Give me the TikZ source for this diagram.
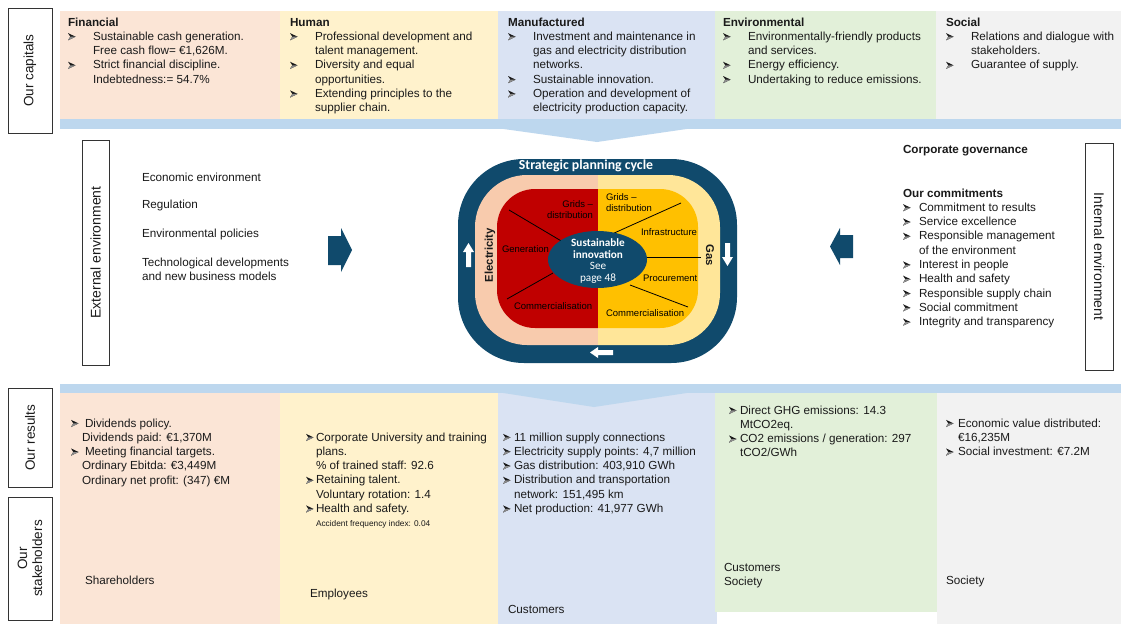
\documentclass[tikz,border=0pt]{standalone}
\usepackage{fontspec}
\setmainfont{Liberation Sans}
\newfontfamily\carl{Carlito}
\definecolor{cFin}{HTML}{FBE5D6}
\definecolor{cHum}{HTML}{FFF2CC}
\definecolor{cMan}{HTML}{DAE3F3}
\definecolor{cEnv}{HTML}{E2F0D9}
\definecolor{cSoc}{HTML}{F2F2F2}
\definecolor{cBand}{HTML}{BDD7EE}
\definecolor{cNavy}{HTML}{104A6C}
\definecolor{cPeach}{HTML}{F8CBAD}
\definecolor{cLYel}{HTML}{FFE699}
\definecolor{cRed}{HTML}{C00000}
\definecolor{cOrange}{HTML}{FFC000}
\definecolor{cTxt}{HTML}{1A1A1A}
\definecolor{cMkLt}{HTML}{8C8C8C}
\newsavebox\mkbox
\newcommand\mk{\usebox\mkbox}
\newcommand\tb[1]{\makebox[25pt][l]{\mk}#1}
\newcommand\tc[1]{\hspace*{25pt}#1}
\newcommand\bb[2]{\makebox[#1pt][l]{\mk}#2}
\newcommand\bc[2]{\hspace*{#1pt}#2}
\begin{document}
\sbox\mkbox{\begin{pgfpicture}
 \pgfsetfillcolor{cTxt}
 \pgfpathmoveto{\pgfpoint{0pt}{0.3pt}}
 \pgfpathlineto{\pgfpoint{7.6pt}{3.9pt}}
 \pgfpathlineto{\pgfpoint{0pt}{7.5pt}}
 \pgfpathlineto{\pgfpoint{2.3pt}{3.9pt}}
 \pgfpathclose
 \pgfusepath{fill}
 \pgfsetfillcolor{cMkLt}
 \pgfpathmoveto{\pgfpoint{0pt}{0.3pt}}
 \pgfpathlineto{\pgfpoint{7.6pt}{3.9pt}}
 \pgfpathlineto{\pgfpoint{2.3pt}{3.9pt}}
 \pgfpathclose
 \pgfusepath{fill}
\end{pgfpicture}}
\begin{tikzpicture}[x=1pt,y=-1pt,
  every node/.style={inner sep=0pt, outer sep=0pt},
  txt/.style={anchor=north west, align=left, font=\fontsize{11.7}{14.3}\selectfont, text=cTxt},
  one/.style={anchor=west, font=\fontsize{11.7}{14.3}\selectfont, text=cTxt},
  lab/.style={anchor=west, font=\fontsize{9.5}{11}\selectfont, text=black},
  vbox/.style={draw=black!80, line width=0.8pt, fill=white, align=center, font=\fontsize{13.5}{15}\selectfont, text=cTxt},
  sep/.style={black, line width=0.8pt},
  band/.style={fill=cBand}
]
\useasboundingbox (0,0) rectangle (1121,624);
\fill[white] (0,0) rectangle (1121,624);

% ---------- top columns ----------
\fill[cFin] (60,11) rectangle (280,119);
\fill[cHum] (280,11) rectangle (498,119);
\fill[cMan] (498,11) rectangle (715,119);
\fill[cEnv] (715,11) rectangle (936,119);
\fill[cSoc] (936,11) rectangle (1121,119);

\node[txt] (fin) at (68,16) {\strut\textbf{Financial}\\
 \tb{Sustainable cash generation.}\\
 \tc{Free cash flow= €1,626M.}\\
 \tb{Strict financial discipline.}\\
 \tc{Indebtedness:= 54.7\%}};
\node[txt] (hum) at (290,16) {\strut\textbf{Human}\\
 \tb{Professional development and}\\
 \tc{talent management.}\\
 \tb{Diversity and equal}\\
 \tc{opportunities.}\\
 \tb{Extending principles to the}\\
 \tc{supplier chain.}};
\node[txt] (man) at (508,16) {\strut\textbf{Manufactured}\\
 \tb{Investment and maintenance in}\\
 \tc{gas and electricity distribution}\\
 \tc{networks.}\\
 \tb{Sustainable innovation.}\\
 \tb{Operation and development of}\\
 \tc{electricity production capacity.}};
\node[txt] (env) at (723,16) {\strut\textbf{Environmental}\\
 \tb{Environmentally-friendly products}\\
 \tc{and services.}\\
 \tb{Energy efficiency.}\\
 \tb{Undertaking to reduce emissions.}};
\node[txt] (soc) at (946,16) {\strut\textbf{Social}\\
 \tb{Relations and dialogue with}\\
 \tc{stakeholders.}\\
 \tb{Guarantee of supply.}};

% top band with chevron
\fill[band] (60,119) rectangle (1121,129);
\fill[band] (500,128.5) -- (597,142) -- (690,128.5) -- cycle;

% ---------- bottom columns ----------
\fill[cFin] (60,393) rectangle (280,624);
\fill[cHum] (280,393) rectangle (498,624);
\fill[cMan] (498,393) rectangle (717,624);
\fill[cEnv] (715,393) rectangle (937,612);
\fill[white] (717,612) rectangle (937,624);
\fill[cSoc] (937,393) rectangle (1121,624);

\fill[band] (60,384) rectangle (1121,393);
\fill[band] (500,392.5) -- (594,407) -- (690,392.5) -- cycle;

\node[txt] (rfin) at (71,417) {\strut\bb{14}{Dividends policy.}\\
 \bc{11}{Dividends paid: €1,370M}\\
 \bb{14}{Meeting financial targets.}\\
 \bc{11}{Ordinary Ebitda: €3,449M}\\
 \bc{11}{Ordinary net profit: (347) €M}};
\node[txt] (rhum) at (306,431) {\strut\bb{10}{Corporate University and training}\\
 \bc{10}{plans.}\\
 \bc{10}{\% of trained staff: 92.6}\\
 \bb{10}{Retaining talent.}\\
 \bc{10}{Voluntary rotation: 1.4}\\
 \bb{10}{Health and safety.}\\
 \bc{10}{\fontsize{8.3}{10}\selectfont Accident frequency index: 0.04}};
\node[txt] (rman) at (503,431) {\strut\bb{11}{11 million supply connections}\\
 \bb{11}{Electricity supply points: 4,7 million}\\
 \bb{11}{Gas distribution: 403,910 GWh}\\
 \bb{11}{Distribution and transportation}\\
 \bc{11}{network: 151,495 km}\\
 \bb{11}{Net production: 41,977 GWh}};
\node[txt] (renv) at (729,404) {\strut\bb{11}{Direct GHG emissions: 14.3}\\
 \bc{11}{MtCO2eq.}\\
 \bb{11}{CO2 emissions / generation: 297}\\
 \bc{11}{tCO2/GWh}};
\node[txt] (rsoc) at (946,417) {\strut\bb{12}{Economic value distributed:}\\
 \bc{12}{€16,235M}\\
 \bb{12}{Social investment: €7.2M}};

\node[one] (sh) at (85,580) {Shareholders};
\node[one] (em) at (310,594) {Employees};
\node[one] (cu) at (508,609) {Customers};
\node[txt] (cs) at (724,561) {\strut Customers\\Society};
\node[one] (so) at (946,581) {Society};

% ---------- side boxes ----------
\node[vbox, rotate=90, minimum width=125pt, minimum height=44pt] (capbox) at (30,70.5) {Our capitals};
\node[vbox, rotate=90, minimum width=99pt, minimum height=44pt] (resbox) at (30,437.5) {Our results};
\node[vbox, rotate=90, minimum width=123pt, minimum height=44pt] (stkbox) at (30,558.5) {Our\\stakeholders};
\node[vbox, rotate=90, minimum width=225pt, minimum height=27pt, font=\fontsize{14}{16}\selectfont] (extbox) at (95.5,252.5) {External environment};
\node[vbox, rotate=-90, minimum width=227pt, minimum height=28pt, font=\fontsize{14}{16}\selectfont] (intbox) at (1099,256.5) {Internal environment};

% external items
\node[one] (e1) at (142,177) {Economic environment};
\node[one] (e2) at (142,205) {Regulation};
\node[one] (e3) at (142,234) {Environmental policies};
\node[txt] (e4) at (142,256) {\strut Technological developments\\and new business models};

% internal items
\node[one, font=\fontsize{11.7}{14.3}\selectfont\bfseries] (cg) at (903,151) {Corporate governance};
\node[txt] (oc) at (903,187) {\strut\textbf{Our commitments}\\
 \bb{16}{Commitment to results}\\
 \bb{16}{Service excellence}\\
 \bb{16}{Responsible management}\\
 \bc{16}{of the environment}\\
 \bb{16}{Interest in people}\\
 \bb{16}{Health and safety}\\
 \bb{16}{Responsible supply chain}\\
 \bb{16}{Social commitment}\\
 \bb{16}{Integrity and transparency}};

% block arrows
\fill[cNavy] (328,236) -- (341,236) -- (341,228) -- (352,250) -- (341,272) -- (341,265) -- (328,265) -- cycle;
\fill[cNavy] (853,235) -- (840,235) -- (840,228) -- (830,246.5) -- (840,265) -- (840,258) -- (853,258) -- cycle;

% ---------- centre: strategic planning cycle ----------
\fill[cNavy, rounded corners=66pt] (458,159) rectangle (737,363);
\begin{scope}
 \clip (450,150) rectangle (598,370);
 \fill[cPeach, rounded corners=52pt] (475,175) rectangle (720,345);
 \fill[cRed, rounded corners=38pt] (497,189) rectangle (698,328);
\end{scope}
\begin{scope}
 \clip (598,150) rectangle (745,370);
 \fill[cLYel, rounded corners=52pt] (475,175) rectangle (720,345);
 \fill[cOrange, rounded corners=38pt] (497,189) rectangle (698,328);
\end{scope}

\coordinate (l1a) at (509,210); \coordinate (l1b) at (563,242);
\coordinate (l2a) at (507,299); \coordinate (l2b) at (553,273);
\coordinate (l3a) at (681,203); \coordinate (l3b) at (612,234);
\coordinate (l4a) at (647,257); \coordinate (l4b) at (701,257);
\coordinate (l5a) at (630,285); \coordinate (l5b) at (688,307);
\draw[sep] (l1a) -- (l1b);
\draw[sep] (l2a) -- (l2b);
\draw[sep] (l3a) -- (l3b);
\draw[sep] (l4a) -- (l4b);
\draw[sep] (l5a) -- (l5b);

\fill[cNavy] (597.5,259.5) ellipse [x radius=49.5, y radius=28.5];
\node[align=center, text=white, font=\carl\fontsize{11.2}{11.4}\selectfont] (si) at (598,261)
 {\textbf{Sustainable}\\\textbf{innovation}\\See\\page 48};

\node[text=white, font=\carl\bfseries\fontsize{13.8}{15}\selectfont] (spc) at (586,165.5) {Strategic planning cycle};
\node[rotate=90, font=\fontsize{11.3}{12}\selectfont\bfseries, text=cTxt] (elec) at (490,255) {Electricity};
\node[rotate=-90, font=\fontsize{11.3}{12}\selectfont\bfseries, text=cTxt] (gas) at (710,255) {Gas};

\node[lab, anchor=north east, align=right] (g1) at (593,199.5) {\strut Grids –\\distribution};
\node[lab] (gen) at (502,249) {Generation};
\node[lab] (com1) at (514,306) {Commercialisation};
\node[lab, anchor=north west, align=left] (g2) at (606,193) {\strut Grids –\\distribution};
\node[lab] (inf) at (641,232) {Infrastructure};
\node[lab] (pro) at (643,278) {Procurement};
\node[lab] (com2) at (606,313) {Commercialisation};

% white arrows
\fill[white] (468.5,243) -- (474,252) -- (471,252) -- (471,267) -- (466,267) -- (466,252) -- (463,252) -- cycle;
\fill[white] (727.5,266) -- (733,257) -- (730,257) -- (730,243) -- (725,243) -- (725,257) -- (722,257) -- cycle;
\fill[white] (590,352.5) -- (598,347) -- (598,350) -- (613,350) -- (613,355) -- (598,355) -- (598,358) -- cycle;
\end{tikzpicture}
\end{document}
